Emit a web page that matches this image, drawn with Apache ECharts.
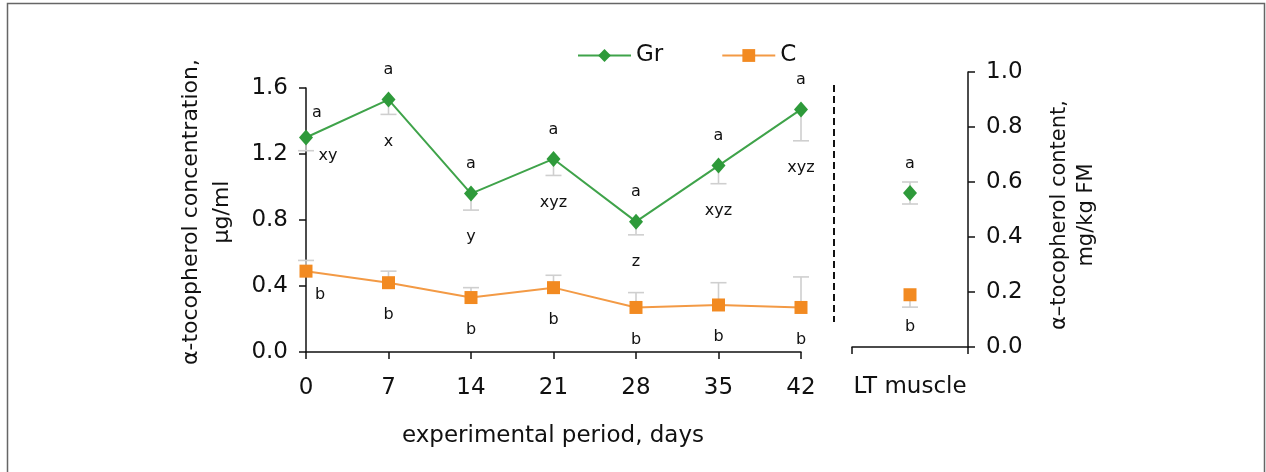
<!DOCTYPE html>
<html>
<head>
<meta charset="utf-8">
<script src="https://cdn.jsdelivr.net/npm/echarts@6/dist/echarts.min.js"></script>
<style>
html,body{margin:0;padding:0;background:#fff;}
#chart{width:1266px;height:472px;}
</style>
</head>
<body>
<div id="chart"></div>
<script>
// ---- data ----
const days = [0, 7, 14, 21, 28, 35, 42];
const grMean = [1.30, 1.53, 0.96, 1.17, 0.79, 1.13, 1.47];
const grErr = [0.08, 0.09, 0.10, 0.10, 0.08, 0.11, 0.19];
const cMean = [0.49, 0.42, 0.33, 0.39, 0.27, 0.285, 0.27];
const cErr = [0.065, 0.07, 0.06, 0.075, 0.09, 0.135, 0.185];
const grSigTop = ['a', 'a', 'a', 'a', 'a', 'a', 'a'];
const grSigBottom = ['xy', 'x', 'y', 'xyz', 'z', 'xyz', 'xyz'];
const cSig = ['b', 'b', 'b', 'b', 'b', 'b', 'b'];
const muscleCat = ['LT muscle'];
const ltGr = [0.56];
const ltGrErr = [0.04];
const ltC = [0.19];
const ltCErr = [0.045];
const ltGrSig = ['a'];
const ltCSig = ['b'];
const leftTicks = [0, 0.4, 0.8, 1.2, 1.6];
const rightTicks = [0, 0.2, 0.4, 0.6, 0.8, 1.0];

// ---- style ----
const FONT = 'DejaVu Sans';
const INK = '#111';
const GREEN = '#2e9a3a';
const GREEN_LINE = '#3fa34a';
const ORANGE = '#f28a21';
const ORANGE_LINE = '#f39a45';
const ERR = '#cfcfcf';

function errRenderer(dir) {
  return function (params, api) {
    const x = api.value(0), m = api.value(1), e = api.value(2);
    const lo = dir === 'up' ? m : m - e;
    const hi = dir === 'down' ? m : m + e;
    const pLo = api.coord([x, lo]);
    const pHi = api.coord([x, hi]);
    const st = { stroke: ERR, lineWidth: 1.6 };
    const ch = [{ type: 'line', shape: { x1: pLo[0], y1: pLo[1], x2: pHi[0], y2: pHi[1] }, style: st }];
    const cw = 8;
    if (dir !== 'up') ch.push({ type: 'line', shape: { x1: pLo[0] - cw, y1: pLo[1], x2: pLo[0] + cw, y2: pLo[1] }, style: st });
    if (dir !== 'down') ch.push({ type: 'line', shape: { x1: pHi[0] - cw, y1: pHi[1], x2: pHi[0] + cw, y2: pHi[1] }, style: st });
    return { type: 'group', children: ch };
  };
}

function txt(x, y, s) {
  return { type: 'text', x: x, y: y, style: { text: s, fill: INK, font: '16px "' + FONT + '"', align: 'center', verticalAlign: 'middle', textAlign: 'center', textVerticalAlign: 'middle' } };
}

const chart = echarts.init(document.getElementById('chart'), null, { renderer: 'canvas' });

const axisLineStyle = { color: INK, width: 1.5 };
const labelStyle = { color: INK, fontSize: 23, fontFamily: FONT };

const option = {
  animation: false,
  backgroundColor: '#fff',
  legend: {
    data: ['Gr', 'C'],
    left: 572, top: 39,
    itemWidth: 53, itemHeight: 16, itemGap: 58,
    textStyle: { color: INK, fontSize: 23, fontFamily: FONT }
  },
  grid: [
    { left: 306, right: 465, top: 88, bottom: 120 },
    { left: 852, right: 298, top: 72, bottom: 125 }
  ],
  xAxis: [
    {
      type: 'value', gridIndex: 0, min: 0, max: 42, interval: 7,
      axisLine: { show: true, onZero: false, lineStyle: axisLineStyle },
      axisTick: { show: true, length: 7, lineStyle: axisLineStyle },
      axisLabel: Object.assign({ margin: 25 }, labelStyle),
      splitLine: { show: false }
    },
    {
      type: 'category', gridIndex: 1, data: muscleCat, boundaryGap: true,
      axisLine: { show: true, lineStyle: axisLineStyle },
      axisTick: { show: true, length: 7, lineStyle: axisLineStyle },
      axisLabel: Object.assign({ margin: 29 }, labelStyle),
      splitLine: { show: false }
    }
  ],
  yAxis: [
    {
      type: 'value', gridIndex: 0, min: leftTicks[0], max: leftTicks[leftTicks.length - 1], interval: 0.4,
      axisLine: { show: true, lineStyle: axisLineStyle },
      axisTick: { show: true, length: 7, lineStyle: axisLineStyle },
      axisLabel: Object.assign({ margin: 18, formatter: v => v.toFixed(1) }, labelStyle),
      splitLine: { show: false }
    },
    {
      type: 'value', gridIndex: 1, position: 'right', min: rightTicks[0], max: rightTicks[rightTicks.length - 1], interval: 0.2,
      axisLine: { show: true, lineStyle: axisLineStyle },
      axisTick: { show: true, length: 7, lineStyle: axisLineStyle },
      axisLabel: Object.assign({ margin: 18, formatter: v => v.toFixed(1) }, labelStyle),
      splitLine: { show: false }
    }
  ],
  series: [
    {
      type: 'custom', name: 'Gr err', xAxisIndex: 0, yAxisIndex: 0, z: 1, clip: false,
      renderItem: errRenderer('down'),
      data: days.map((d, i) => [d, grMean[i], grErr[i]])
    },
    {
      type: 'custom', name: 'C err', xAxisIndex: 0, yAxisIndex: 0, z: 1, clip: false,
      renderItem: errRenderer('up'),
      data: days.map((d, i) => [d, cMean[i], cErr[i]])
    },
    {
      type: 'custom', name: 'Gr LT err', xAxisIndex: 1, yAxisIndex: 1, z: 1, clip: false,
      renderItem: errRenderer('both'),
      data: muscleCat.map((c, i) => [i, ltGr[i], ltGrErr[i]])
    },
    {
      type: 'custom', name: 'C LT err', xAxisIndex: 1, yAxisIndex: 1, z: 1, clip: false,
      renderItem: errRenderer('down'),
      data: muscleCat.map((c, i) => [i, ltC[i], ltCErr[i]])
    },
    {
      type: 'line', name: 'Gr', xAxisIndex: 0, yAxisIndex: 0, z: 3,
      data: days.map((d, i) => [d, grMean[i]]),
      symbol: 'diamond', symbolSize: [14, 16],
      lineStyle: { color: GREEN_LINE, width: 2 },
      itemStyle: { color: GREEN }
    },
    {
      type: 'line', name: 'C', xAxisIndex: 0, yAxisIndex: 0, z: 3,
      data: days.map((d, i) => [d, cMean[i]]),
      symbol: 'rect', symbolSize: 13,
      lineStyle: { color: ORANGE_LINE, width: 2 },
      itemStyle: { color: ORANGE }
    },
    {
      type: 'scatter', name: 'Gr LT', xAxisIndex: 1, yAxisIndex: 1, z: 3,
      data: muscleCat.map((c, i) => [c, ltGr[i]]),
      symbol: 'diamond', symbolSize: [14, 16],
      itemStyle: { color: GREEN, opacity: 1 }
    },
    {
      type: 'scatter', name: 'C LT', xAxisIndex: 1, yAxisIndex: 1, z: 3,
      data: muscleCat.map((c, i) => [c, ltC[i]]),
      symbol: 'rect', symbolSize: 13,
      itemStyle: { color: ORANGE, opacity: 1 }
    },
    {
      type: 'custom', name: 'sig', xAxisIndex: 0, yAxisIndex: 0, z: 4, clip: false,
      data: days.map((d, i) => [d, grMean[i], grErr[i], cMean[i]]),
      renderItem: function (params, api) {
        const i = params.dataIndex;
        const x = api.value(0), g = api.value(1), ge = api.value(2), c = api.value(3);
        const pg = api.coord([x, g]);
        const pgl = api.coord([x, g - ge]);
        const pc = api.coord([x, c]);
        const first = i === 0;
        return {
          type: 'group', children: [
            first ? txt(pg[0] + 11, pg[1] - 25, grSigTop[i]) : txt(pg[0], pg[1] - 29.5, grSigTop[i]),
            first ? txt(pg[0] + 22, pgl[1] + 5, grSigBottom[i]) : txt(pg[0], pgl[1] + 27, grSigBottom[i]),
            first ? txt(pc[0] + 14, pc[1] + 24, cSig[i]) : txt(pc[0], pc[1] + 32, cSig[i])
          ]
        };
      }
    },
    {
      type: 'custom', name: 'sig LT', xAxisIndex: 1, yAxisIndex: 1, z: 4, clip: false,
      data: muscleCat.map((c, i) => [i, ltGr[i], ltC[i]]),
      renderItem: function (params, api) {
        const i = params.dataIndex;
        const pg = api.coord([api.value(0), api.value(1)]);
        const pc = api.coord([api.value(0), api.value(2)]);
        return { type: 'group', children: [txt(pg[0], pg[1] - 29.5, ltGrSig[i]), txt(pc[0], pc[1] + 32, ltCSig[i])] };
      }
    }
  ],
  graphic: [
    {
      type: 'rect', silent: true, z: 0,
      shape: { x: 7.5, y: 3.5, width: 1257, height: 480 },
      style: { fill: 'none', stroke: '#666', lineWidth: 1.5 }
    },
    {
      type: 'line', silent: true,
      shape: { x1: 834, y1: 85, x2: 834, y2: 322 },
      style: { stroke: INK, lineWidth: 2, lineDash: [7, 4] }
    },
    {
      type: 'text', x: 207, y: 212, rotation: Math.PI / 2,
      style: { text: 'α-tocopherol concentration,\nµg/ml', fill: INK, font: '22px "' + FONT + '"', lineHeight: 31, align: 'center', verticalAlign: 'middle', textAlign: 'center', textVerticalAlign: 'middle' }
    },
    {
      type: 'text', x: 1073, y: 215, rotation: Math.PI / 2,
      style: { text: 'α–tocopherol content,\nmg/kg FM', fill: INK, font: '21px "' + FONT + '"', lineHeight: 27, align: 'center', verticalAlign: 'middle', textAlign: 'center', textVerticalAlign: 'middle' }
    },
    {
      type: 'text', x: 553, y: 436,
      style: { text: 'experimental period, days', fill: INK, font: '23px "' + FONT + '"', align: 'center', verticalAlign: 'middle', textAlign: 'center', textVerticalAlign: 'middle' }
    }
  ]
};
chart.setOption(option);
</script>
</body>
</html>
